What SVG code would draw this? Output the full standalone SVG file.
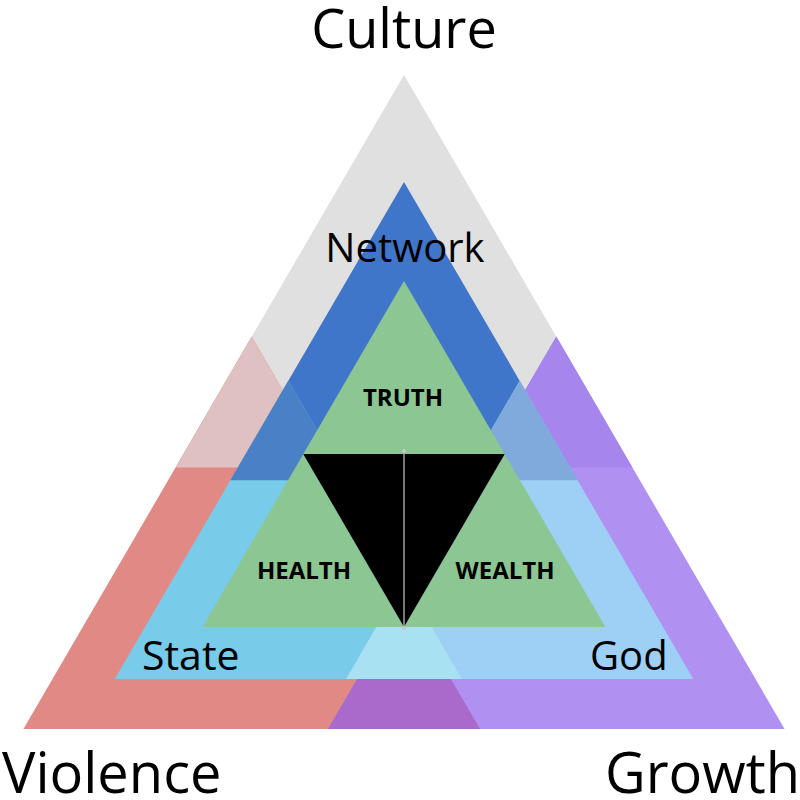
<svg xmlns="http://www.w3.org/2000/svg" width="800" height="800" viewBox="0 0 800 800">
  <style>
    .big { font-family: "Open Sans", "Liberation Sans", sans-serif; font-size: 54px; fill: #000; }
    .corner { font-size: 56px; }
    .mid { font-family: "Open Sans", "Liberation Sans", sans-serif; font-size: 40px; fill: #000; }
    .small { font-family: "Open Sans", "Liberation Sans", sans-serif; font-size: 24px; font-weight: bold; fill: #000; text-anchor: middle; }
  </style>
  <rect width="800" height="800" fill="#ffffff"/>
  <!-- Outer layer -->
  <g id="culture">
    <polygon points="404,75 175.6,467.4 632.4,467.4" fill="#e0e0e0"/>
    <text class="big" x="404" y="48" text-anchor="middle">Culture</text>
  </g>
  <g id="violence">
    <polygon points="251.7,336.6 23.4,729 480,729" fill="#e08985"/>
    <polygon points="251.7,336.6 175.6,467.4 327.8,467.4" fill="#dfc1c1"/>
    <text class="big corner" x="2" y="793">Violence</text>
  </g>
  <g id="growth">
    <polygon points="556.3,336.6 328,729 784.6,729" fill="#b091f1"/>
    <polygon points="556.3,336.6 480.2,467.4 632.4,467.4" fill="#a686ec"/>
    <polygon points="404,598.3 328,729 480,729" fill="#a96acb"/>
    <text class="big corner" x="605" y="793">Growth</text>
  </g>
  <!-- Inner layer -->
  <g id="network">
    <polygon points="404,182 230.4,480.2 577.6,480.2" fill="#4076ca"/>
    <text class="mid" x="405" y="262" text-anchor="middle">Network</text>
  </g>
  <g id="state">
    <polygon points="288.3,380.8 114.7,679 461.9,679" fill="#79cbea"/>
    <polygon points="288.3,380.8 230.4,480.2 346.2,480.2" fill="#4a80c5"/>
    <text class="mid" x="142" y="670" style="font-size:41px">State</text>
  </g>
  <g id="god">
    <polygon points="519.7,380.8 346.1,679 693.3,679" fill="#9ecff4"/>
    <polygon points="519.7,380.8 461.8,480.2 577.6,480.2" fill="#80aadc"/>
    <polygon points="404,579.4 346.1,679 461.9,679" fill="#a8e1f1"/>
    <text class="mid" x="590" y="670">God</text>
  </g>
  <!-- Core -->
  <g id="truth">
    <polygon points="404,281 303.3,454 504.7,454" fill="#8cc692"/>
    <text class="small" x="403" y="406">TRUTH</text>
  </g>
  <g id="health">
    <polygon points="303.3,454 202.6,627 404,627" fill="#8cc692"/>
    <text class="small" x="304" y="579">HEALTH</text>
  </g>
  <g id="wealth">
    <polygon points="504.7,454 404,627 605.4,627" fill="#8cc692"/>
    <text class="small" x="505" y="579">WEALTH</text>
  </g>
  <g id="center">
    <polygon points="303.3,454 504.7,454 404,627" fill="#000000"/>
  </g>
  <g id="connectors">
    <line x1="404" y1="452" x2="404" y2="627" stroke="#a0a0a0" stroke-width="1.5"/>
    <circle cx="404" cy="451" r="2" fill="#c8c8c8"/>
    <circle cx="404" cy="628" r="2" fill="#c8c8c8"/>
  </g>
</svg>
